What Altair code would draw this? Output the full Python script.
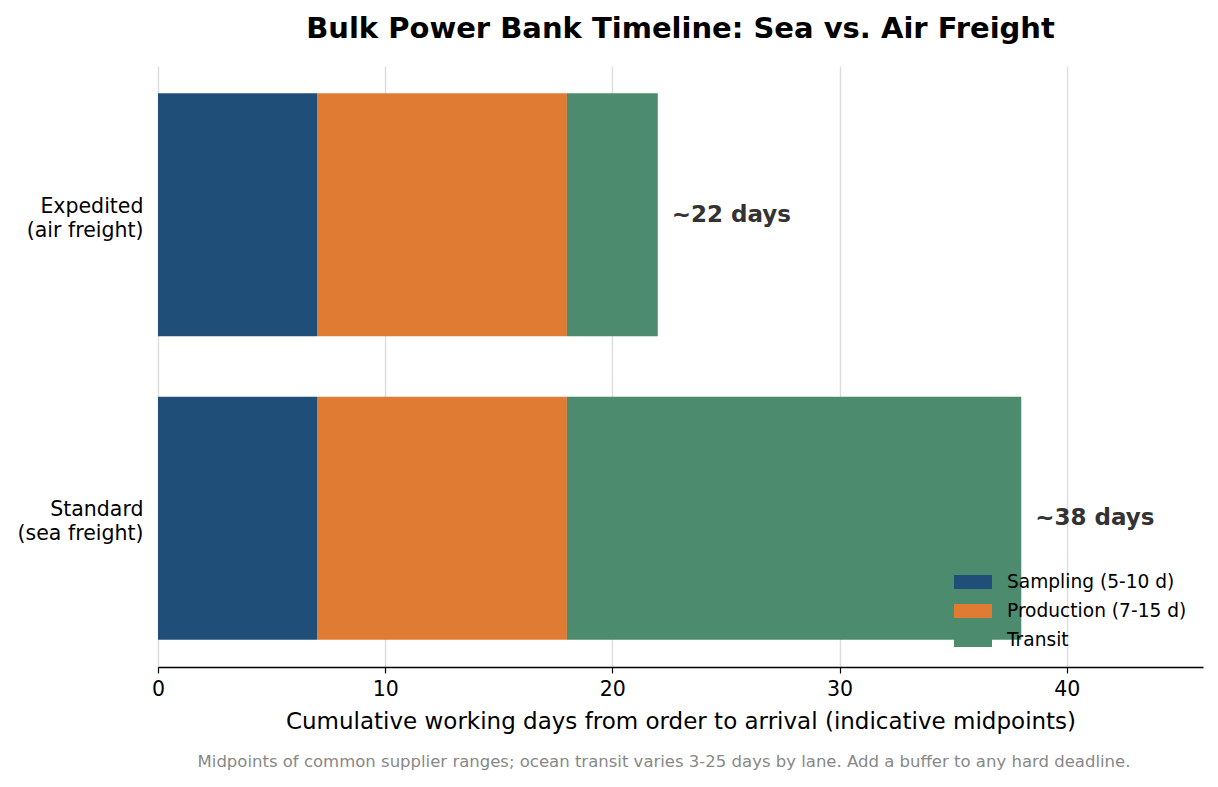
import altair as alt
import pandas as pd

routes = ["Expedited\n(air freight)", "Standard\n(sea freight)"]
phases = ["Sampling (5-10 d)", "Production (7-15 d)", "Transit"]
sampling_days = [7, 7]
production_days = [11, 11]
transit_days = [4, 20]
total_labels = ["~22 days", "~38 days"]

PHASE_COLORS = ["#1F4E79", "#E07B34", "#4D8B6F"]
FONT = "DejaVu Sans"

rows = []
for i, route in enumerate(routes):
    for k, (phase, vals) in enumerate(zip(phases, [sampling_days, production_days, transit_days])):
        rows.append({"route": route, "phase": phase, "order": k, "days": vals[i]})
df = pd.DataFrame(rows)

totals = pd.DataFrame({
    "route": routes,
    "total": [s + p + t for s, p, t in zip(sampling_days, production_days, transit_days)],
    "label": total_labels,
})

y_enc = alt.Y(
    "route:N",
    sort=routes,
    title=None,
    scale=alt.Scale(paddingInner=0.2, paddingOuter=0.09),
    axis=alt.Axis(
        labelExpr="split(datum.label, '\\n')",
        labelFont=FONT, labelFontSize=20.5, labelColor="#000000",
        labelLineHeight=24, labelPadding=15, labelOffset=-8,
        domain=False, ticks=False, grid=False,
    ),
)

bars = alt.Chart(df).mark_bar(opacity=1).encode(
    x=alt.X(
        "days:Q",
        stack="zero",
        scale=alt.Scale(domain=[0, 46], nice=False),
        title="Cumulative working days from order to arrival (indicative midpoints)",
        axis=alt.Axis(
            values=[0, 10, 20, 30, 40], format="d", labelFlush=False,
            labelFont=FONT, labelFontSize=20.5, labelColor="#000000", labelPadding=6,
            titleFont=FONT, titleFontSize=23, titleFontWeight="normal", titleColor="#000000",
            titlePadding=11,
            domainColor="#000000", domainWidth=1.3,
            tickColor="#000000", tickSize=6, tickWidth=1.2,
            grid=True, gridColor="#DCDCDC", gridWidth=1.4,
        ),
    ),
    y=y_enc,
    color=alt.Color(
        "phase:N",
        sort=phases,
        scale=alt.Scale(domain=phases, range=PHASE_COLORS),
        legend=alt.Legend(
            title=None, orient="none", legendX=796, legendY=497,
            symbolType="M-1,-0.37L1,-0.37L1,0.37L-1,0.37Z", symbolSize=1444,
            symbolStrokeWidth=0, symbolOpacity=1,
            labelFont=FONT, labelFontSize=18.6, labelColor="#000000", labelLimit=0,
            labelOffset=15, rowPadding=-11, padding=0,
        ),
    ),
    order=alt.Order("order:Q"),
)

labels = alt.Chart(totals).mark_text(
    align="left", baseline="middle", dx=14,
    font=FONT, fontSize=23, fontWeight="bold", color="#333333",
).encode(
    x=alt.X("total:Q"),
    y=alt.Y("route:N", sort=routes),
    text="label:N",
)

note = alt.Chart(pd.DataFrame({"t": [
    "Midpoints of common supplier ranges; ocean transit varies 3-25 days by lane. Add a buffer to any hard deadline."
]})).mark_text(
    align="center", baseline="middle", font=FONT, fontSize=16.5, color="#888888",
).encode(
    x=alt.value(506), y=alt.value(696), text="t:N",
)

chart = alt.layer(bars, labels, note).properties(
    width=1045,
    height=601,
    background="white",
    title=alt.TitleParams(
        "Bulk Power Bank Timeline: Sea vs. Air Freight",
        font=FONT, fontSize=29, fontWeight="bold", color="#000000",
        anchor="middle", offset=22,
    ),
    autosize=alt.AutoSizeParams(type="none"),
    padding={"left": 150, "top": 58, "right": 7, "bottom": 110},
).configure_view(stroke=None, strokeWidth=0)

chart.save("out.html", embed_options={"renderer": "svg", "actions": False})
